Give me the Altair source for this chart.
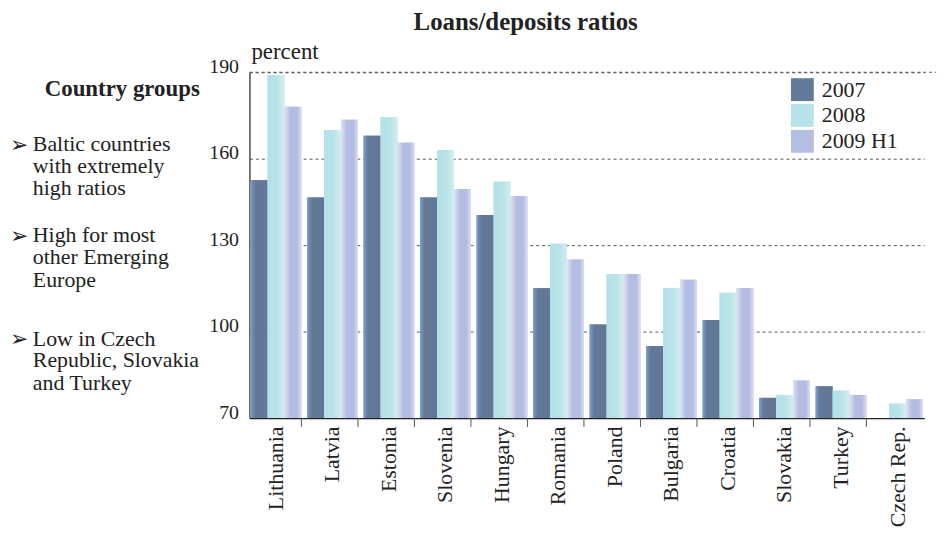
import altair as alt
import pandas as pd

countries = ["Lithuania", "Latvia", "Estonia", "Slovenia", "Hungary", "Romania",
             "Poland", "Bulgaria", "Croatia", "Slovakia", "Turkey", "Czech Rep."]
v2007 = [152.5, 146.5, 168.0, 146.5, 140.5, 115.0, 102.5, 95.0, 104.0, 77.0, 81.0, None]
v2008 = [189.0, 170.0, 174.5, 163.0, 152.0, 130.5, 120.0, 115.0, 113.5, 78.0, 79.5, 75.0]
v2009 = [178.0, 173.5, 165.5, 149.5, 147.0, 125.0, 120.0, 118.0, 115.0, 83.0, 78.0, 76.5]
years = ["2007", "2008", "2009 H1"]
y_ticks = [70, 100, 130, 160, 190]
y_min, y_max = 70, 190

year_colors = ["#647a9b", "#b6e3e8", "#b4bde2"]
gradients = {
    "2007": [(0.0, "#80a8dc"), (0.12, "#6e8ab0"), (0.3, "#627896"), (1.0, "#627896")],
    "2008": [(0.0, "#b3e1e7"), (0.55, "#b8e3e8"), (1.0, "#d4edf1")],
    "2009 H1": [(0.0, "#e0e3f3"), (0.35, "#b3bce2"), (0.75, "#b3bce2"), (1.0, "#dde0f2")],
}

rows = []
for i, c in enumerate(countries):
    for yr, vals in zip(years, [v2007, v2008, v2009]):
        if vals[i] is not None:
            rows.append({"country": c, "year": yr, "value": vals[i]})
df = pd.DataFrame(rows)
one = pd.DataFrame({"a": [0]})

W, H = 679, 348
SERIF = "Liberation Serif"
INK = "#222222"


def grad(stops):
    return alt.LinearGradient(
        gradient="linear",
        stops=[alt.GradientStop(offset=o, color=c) for o, c in stops],
        x1=0, x2=1, y1=0, y2=0,
    )


x_scale = alt.Scale(paddingInner=0.1, paddingOuter=0.02)
x_axis = alt.Axis(title=None, labelAngle=-90, labelFont=SERIF, labelFontSize=22,
                  labelColor=INK, labelPadding=8, ticks=False, domainColor=INK,
                  domainWidth=1.2)
x_enc = alt.X("country:N", sort=countries, scale=x_scale, axis=x_axis)
xo_enc = alt.XOffset("year:N", sort=years, scale=alt.Scale(paddingInner=0, paddingOuter=0))
y_enc = alt.Y(
    "value:Q",
    scale=alt.Scale(domain=[y_min, y_max], nice=False, zero=False),
    axis=alt.Axis(title=None, values=y_ticks, labelFont=SERIF, labelFontSize=20,
                  labelColor=INK, labelPadding=11, labelOffset=-6, ticks=False,
                  grid=True, gridColor="#555555", gridDash=[3, 3], gridWidth=1,
                  domainColor=INK, domainWidth=1.2),
)
y2_enc = alt.datum(y_min)

base = alt.Chart(df).mark_bar().encode(
    x=x_enc, xOffset=xo_enc, y=y_enc, y2=y2_enc,
    color=alt.Color(
        "year:N", sort=years,
        scale=alt.Scale(domain=years, range=year_colors),
        legend=alt.Legend(title=None, orient="none", legendX=545, legendY=6,
                          symbolType="square", symbolSize=529, labelFont=SERIF,
                          labelFontSize=22, labelColor=INK, rowPadding=3,
                          labelOffset=8, padding=0, symbolStrokeWidth=0),
    ),
)

overlays = [
    alt.Chart(df).transform_filter(alt.datum.year == yr)
    .mark_bar(fill=grad(gradients[yr]))
    .encode(x=x_enc, xOffset=xo_enc, y=y_enc, y2=y2_enc)
    for yr in years
]

tick_df = pd.DataFrame({"country": countries[:-1]})
ticks = alt.Chart(tick_df).mark_rule(color="#555555", strokeWidth=1).encode(
    x=alt.X("country:N", sort=countries, bandPosition=1, scale=x_scale, axis=x_axis),
    y=alt.value(H), y2=alt.value(H + 9),
)

top_rule = alt.Chart(one).mark_rule(color="#555555", strokeDash=[3, 3]).encode(
    x=alt.value(0), x2=alt.value(W + 12), y=alt.value(0)
)


def txt(s, x, y, size=22, weight="normal", align="left", font=SERIF, baseline="alphabetic"):
    return alt.Chart(one).mark_text(
        text=s, font=font, fontSize=size, fontWeight=weight, align=align,
        baseline=baseline, color=INK,
    ).encode(x=alt.value(x), y=alt.value(y))


def bullet(y):
    return txt("\u27a2", -241, y, size=22, font="DejaVu Sans", baseline="middle")


texts = [
    txt("Loans/deposits ratios", 278, -43, size=25, weight="bold", align="center"),
    txt("percent", 2, -13, size=23),
    txt("Country groups", -128, 24, size=23, weight="bold", align="center"),
    bullet(73),
    txt("Baltic countries", -218, 79),
    txt("with extremely", -218, 101.5),
    txt("high ratios", -218, 124),
    bullet(165),
    txt("High for most", -218, 171),
    txt("other Emerging", -218, 193),
    txt("Europe", -218, 216),
    bullet(269),
    txt("Low in Czech", -218, 275),
    txt("Republic, Slovakia", -218, 297),
    txt("and Turkey", -218, 320),
]

chart = alt.layer(base, *overlays, ticks, top_rule, *texts).properties(
    width=W, height=H,
    autosize=alt.AutoSizeParams(type="none"),
    padding={"left": 243, "top": 63, "right": 16, "bottom": 109},
).configure_view(stroke=None)

chart.save("out.html", embed_options={"renderer": "svg", "actions": False})
